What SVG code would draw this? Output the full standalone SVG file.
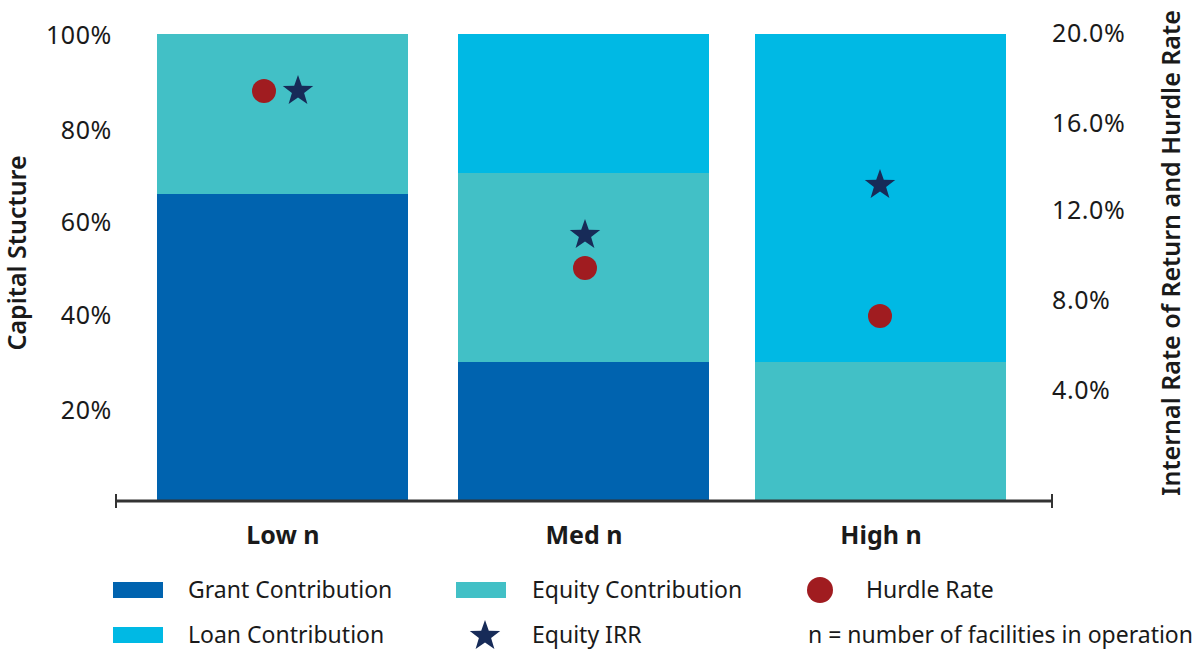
<svg xmlns="http://www.w3.org/2000/svg" width="1200" height="650" viewBox="0 0 1200 650">
<style>
text{font-family:"Noto Sans","Liberation Sans",sans-serif;fill:#1a1a1a}
.tick{font-size:25px;letter-spacing:0.6px}
.cat{font-size:25px;font-weight:bold}
.title{font-size:25px;font-weight:600}
.leg{font-size:23px}
.grant{fill:#0063AF}
.equity{fill:#42C0C6}
.loan{fill:#00B9E4}
.hurdle{fill:#A01C20}
.irr{fill:#172B58}
</style>
<defs>
<path id="star" d="M0,-16 L3.8,-5.2 L15.2,-4.9 L6.1,2 L9.4,12.9 L0,6.5 L-9.4,12.9 L-6.1,2 L-15.2,-4.9 L-3.8,-5.2 Z"/>
</defs>
<rect width="1200" height="650" fill="#fff"/>
<g id="bar-low">
<rect class="equity" x="157" y="34" width="251" height="160"/>
<rect class="grant" x="157" y="194" width="251" height="306"/>
<circle class="hurdle" cx="264" cy="91" r="12"/>
<use href="#star" class="irr" x="298" y="91"/>
</g>
<g id="bar-med">
<rect class="loan" x="458" y="34" width="251" height="139"/>
<rect class="equity" x="458" y="173" width="251" height="189"/>
<rect class="grant" x="458" y="362" width="251" height="138"/>
<use href="#star" class="irr" x="585" y="235"/>
<circle class="hurdle" cx="585" cy="268" r="12"/>
</g>
<g id="bar-high">
<rect class="loan" x="755" y="34" width="251" height="328"/>
<rect class="equity" x="755" y="362" width="251" height="138"/>
<use href="#star" class="irr" x="880" y="185"/>
<circle class="hurdle" cx="880" cy="316" r="12"/>
</g>
<g id="axes">
<line x1="116" y1="501" x2="1052" y2="501" stroke="#333" stroke-width="3"/>
<line x1="116" y1="494" x2="116" y2="508" stroke="#333" stroke-width="2"/>
<line x1="1052" y1="494" x2="1052" y2="508" stroke="#333" stroke-width="2"/>
<g class="tick" text-anchor="end">
<text x="112" y="44">100%</text>
<text x="112" y="139">80%</text>
<text x="112" y="231">60%</text>
<text x="112" y="324">40%</text>
<text x="112" y="419">20%</text>
</g>
<g class="tick">
<text x="1052" y="42">20.0%</text>
<text x="1052" y="132">16.0%</text>
<text x="1052" y="219">12.0%</text>
<text x="1052" y="309">8.0%</text>
<text x="1052" y="399">4.0%</text>
</g>
<g class="cat" text-anchor="middle">
<text x="283" y="544">Low n</text>
<text x="584" y="544">Med n</text>
<text x="881" y="544">High n</text>
</g>
<text class="title" text-anchor="middle" transform="translate(26,253) rotate(-90)">Capital Stucture</text>
<text class="title" text-anchor="middle" transform="translate(1180,253) rotate(-90)">Internal Rate of Return and Hurdle Rate</text>
</g>
<g id="legend">
<rect class="grant" x="113" y="582" width="50" height="16"/>
<text class="leg" x="188" y="598">Grant Contribution</text>
<rect class="equity" x="456" y="582" width="50" height="16"/>
<text class="leg" x="532" y="598">Equity Contribution</text>
<circle class="hurdle" cx="820" cy="590" r="13"/>
<text class="leg" x="866" y="598">Hurdle Rate</text>
<rect class="loan" x="113" y="627" width="50" height="16"/>
<text class="leg" x="188" y="643">Loan Contribution</text>
<use href="#star" class="irr" x="485" y="636"/>
<text class="leg" x="532" y="643">Equity IRR</text>
<text class="leg" x="808" y="643">n = number of facilities in operation</text>
</g>
</svg>
